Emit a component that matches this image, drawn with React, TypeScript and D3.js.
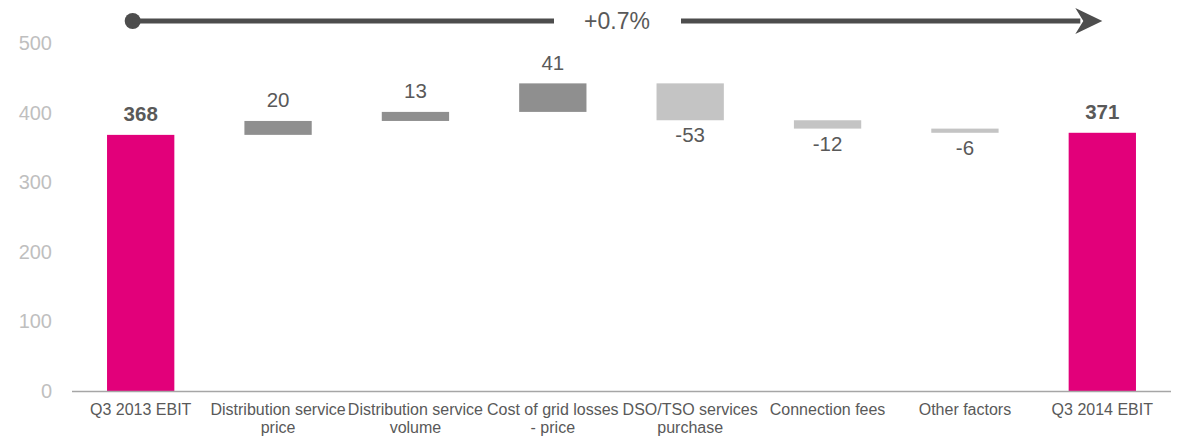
import React from "react";
import * as d3 from "d3";

const categories = [
  "Q3 2013 EBIT",
  "Distribution service|price",
  "Distribution service|volume",
  "Cost of grid losses|- price",
  "DSO/TSO services|purchase",
  "Connection fees",
  "Other factors",
  "Q3 2014 EBIT",
];
const deltas = [368, 20, 13, 41, -53, -12, -6, 371];
const isTotal = [true, false, false, false, false, false, false, true];
const yTicks = [0, 100, 200, 300, 400, 500];
const changeLabel = "+0.7%";

const W = 1180;
const H = 437;

export default function App() {
  const x = d3.scaleBand().domain(categories).range([72, 1171]).paddingInner(0.51).paddingOuter(0.255);
  const y = d3.scaleLinear().domain([0, 500]).range([391, 43]);

  let running = 0;
  const bars = categories.map((c, i) => {
    const d = deltas[i];
    let start: number, end: number;
    if (isTotal[i]) {
      start = 0;
      end = d;
      running = d;
    } else {
      start = running;
      end = running + d;
      running = end;
    }
    return { c, d, start, end, total: isTotal[i] };
  });

  const font = "Liberation Sans, Arial, sans-serif";
  const arrowY = 21;
  const dotX = x(categories[0])! + x.bandwidth() / 2 - 8;
  const tipX = x(categories[7])! + x.bandwidth() / 2;

  return (
    <svg width={W} height={H} style={{ position: "absolute", left: 0, top: 0 }} fontFamily={font}>
      {yTicks.map((t) => (
        <text key={t} x={52} y={y(t)} dy="0.35em" textAnchor="end" fontSize={20} fill="#bfbfbf">
          {t}
        </text>
      ))}
      {bars.map((b, i) => {
        const x0 = x(b.c)!;
        const top = y(Math.max(b.start, b.end));
        const bot = y(Math.min(b.start, b.end));
        const fill = b.total ? "#e2007a" : b.d > 0 ? "#8f8f8f" : "#c4c4c4";
        const cx = x0 + x.bandwidth() / 2;
        let ly: number;
        if (b.total || b.d > 0) ly = top - 21;
        else ly = bot + 15;
        return (
          <g key={b.c}>
            <rect x={x0} y={top} width={x.bandwidth()} height={Math.max(bot - top, 1)} fill={fill} />
            <text
              x={cx}
              y={ly}
              dy="0.35em"
              textAnchor="middle"
              fontSize={20.5}
              fontWeight={b.total ? "bold" : "normal"}
              fill="#595959"
            >
              {b.d}
            </text>
          </g>
        );
      })}
      <line x1={72} x2={1171} y1={y(0) + 0.5} y2={y(0) + 0.5} stroke="#a6a6a6" strokeWidth={1.5} />
      {categories.map((c) => {
        const lines = c.split("|");
        const cx = x(c)! + x.bandwidth() / 2;
        return (
          <text key={c} x={cx} textAnchor="middle" fontSize={16} fill="#595959">
            {lines.map((l, j) => (
              <tspan key={j} x={cx} y={415 + j * 18}>
                {l}
              </tspan>
            ))}
          </text>
        );
      })}
      <circle cx={dotX} cy={arrowY} r={8} fill="#4d4d4d" />
      <line x1={dotX} x2={554} y1={arrowY} y2={arrowY} stroke="#4d4d4d" strokeWidth={5} />
      <line x1={681} x2={tipX - 22} y1={arrowY} y2={arrowY} stroke="#4d4d4d" strokeWidth={5} />
      <path
        d={`M${tipX} ${arrowY} L${tipX - 27} ${arrowY - 13} L${tipX - 19} ${arrowY} L${tipX - 27} ${arrowY + 13} Z`}
        fill="#4d4d4d"
      />
      <text x={617} y={arrowY} dy="0.35em" textAnchor="middle" fontSize={23} fill="#595959">
        {changeLabel}
      </text>
    </svg>
  );
}
